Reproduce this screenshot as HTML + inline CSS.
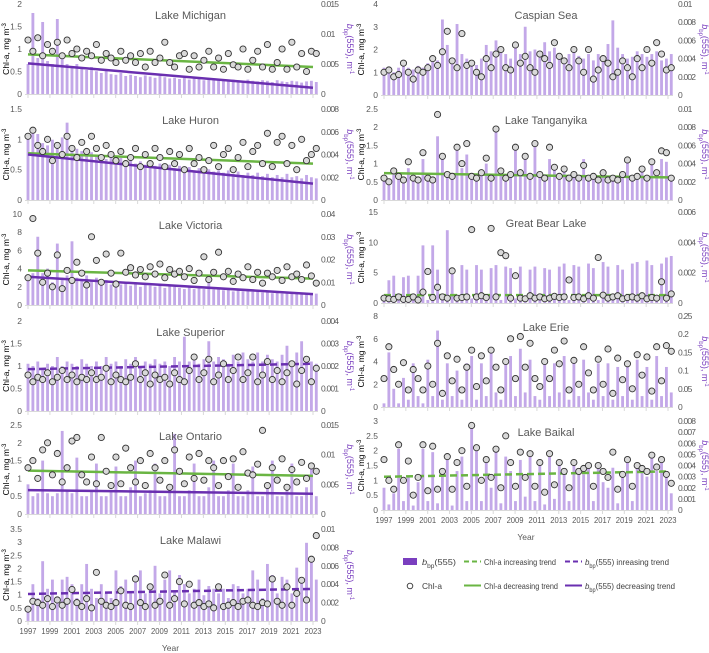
<!DOCTYPE html>
<html><head><meta charset="utf-8">
<style>
html,body{margin:0;padding:0;background:#fff;}
svg{display:block;font-family:"Liberation Sans",sans-serif;}
.tk{font-size:8.5px;fill:#595959;}
.ttl{font-size:11px;fill:#595959;}
.yt{font-size:8.5px;fill:#000;}
.yt2{font-size:9px;fill:#7a3fbf;}
.lg{font-size:8.5px;fill:#404040;}
</style></head>
<body>
<svg id="chart" width="709" height="653" viewBox="0 0 709 653" xmlns="http://www.w3.org/2000/svg"></svg>
<script>
// ---- data ----
const lakeNames = ["Lake Michigan","Lake Huron","Lake Victoria","Lake Superior","Lake Ontario","Lake Malawi","Caspian Sea","Lake Tanganyika","Great Bear Lake","Lake Erie","Lake Baikal"];
const yearTicks = [1997,1999,2001,2003,2005,2007,2009,2011,2013,2015,2017,2019,2021,2023];
const chlMaxes = [2,1.5,10,2,2.5,3.5,4,2.5,15,8,3];
const chlSteps = [0.5,0.5,2,0.5,0.5,0.5,1,0.5,5,2,0.5];
const bbpMaxes = [0.015,0.008,0.04,0.004,0.015,0.01,0.01,0.01,0.006,0.25,0.008];
const bbpSteps = [0.005,0.002,0.01,0.001,0.005,0.002,0.002,0.002,0.002,0.05,0.001];
const chlTrendStart = [0.88,0.77,3.8,null,1.22,null,null,0.74,1.3,null,1.12];
const chlTrendEnd   = [0.6,0.6,2.9,null,1.07,null,null,0.62,1.3,null,1.3];
const chlTrendDashed = [false,false,false,false,false,false,false,false,true,false,true];
const bbpTrendStart = [0.0051,0.004,0.0124,0.00186,0.00402,0.00294,null,null,null,null,null];
const bbpTrendEnd   = [0.00105,0.00144,0.0048,0.0021,0.00342,0.00349,null,null,null,null,null];
const bbpTrendDashed = [false,false,false,true,false,true,false,false,false,false,false];

const chlMichigan=[1.2,0.95,1.25,0.85,1.1,0.95,1.15,0.85,1.2,0.9,1.0,0.8,0.95,0.85,1.1,0.75,0.9,0.8,0.7,0.95,0.75,0.85,0.7,0.9,0.6,0.95,0.7,0.8,1.15,0.7,0.6,0.85,0.9,0.55,0.85,0.6,0.75,0.95,0.6,0.8,0.55,0.9,0.65,0.6,1.0,0.55,0.75,0.95,0.6,1.1,0.55,0.7,1.0,0.55,1.15,0.6,0.9,0.5,0.95,0.9];
const bbpMichigan=[.005,.0135,.006,.012,.0055,.005,.0125,.006,.005,.0045,.005,.0042,.004,.0045,.0038,.0035,.004,.0033,.0032,.0035,.003,.0032,.003,.0028,.0031,.0029,.0027,.003,.0028,.0026,.0027,.0025,.0027,.0024,.0026,.0025,.0023,.0025,.0024,.0023,.0025,.0022,.0024,.0023,.0021,.0024,.0022,.0021,.0023,.0022,.002,.0023,.0021,.002,.0022,.0021,.0019,.0021,.0022,.002];
const chlHuron=[1.05,1.15,0.9,0.8,1.0,0.65,0.9,0.75,1.05,0.85,0.7,0.95,0.8,1.05,0.85,0.7,0.9,0.75,0.65,0.8,0.6,0.7,0.85,0.55,0.75,0.6,0.85,0.7,0.55,0.8,0.6,0.75,0.5,0.85,0.6,0.7,0.5,0.65,0.9,0.55,0.75,0.85,0.5,0.7,0.95,0.55,0.8,0.9,0.6,1.1,0.55,0.95,1.05,0.6,0.9,0.5,1.0,0.65,0.75,0.85];
const bbpHuron=[.0055,.006,.0058,.005,.0048,.0053,.0045,.0055,.0068,.0047,.0045,.0043,.004,.0042,.0038,.004,.0036,.0038,.0035,.0037,.0033,.0036,.0032,.0034,.0031,.0033,.003,.0032,.0029,.0031,.0028,.003,.0027,.0029,.0026,.0028,.0025,.0027,.0025,.0026,.0024,.0026,.0023,.0025,.0022,.0024,.0022,.0024,.0021,.0023,.002,.0022,.002,.0023,.002,.0021,.0019,.0022,.002,.0019];
const chlVictoria=[3.0,9.5,5.7,2.5,3.5,2.0,5.5,1.8,3.8,2.7,4.7,3.5,2.2,7.5,4.9,2.5,5.6,3.5,2.3,5.7,3.6,4.1,3.3,3.9,3.1,4.2,3.4,4.5,3.0,3.9,3.4,3.7,3.1,4.0,2.7,3.5,5.3,2.8,3.6,5.8,3.1,3.7,2.6,3.4,3.0,4.2,2.8,3.6,2.4,3.5,3.1,3.8,2.7,4.2,3.1,3.4,2.8,4.4,3.2,2.4];
const bbpVictoria=[.012,.014,.03,.014,.016,.01,.027,.012,.013,.028,.012,.011,.013,.011,.012,.01,.011,.009,.011,.009,.01,.0085,.01,.008,.009,.0085,.008,.009,.0075,.0085,.008,.0075,.007,.0085,.007,.0075,.007,.012,.0068,.007,.0065,.007,.006,.0068,.006,.0065,.0058,.006,.0055,.006,.0052,.0055,.005,.0057,.005,.0052,.0055,.005,.0048,.005];
const chlSuperior=[0.8,0.65,0.75,0.7,0.85,0.65,0.75,0.9,0.7,0.8,0.65,0.75,0.7,0.85,0.7,0.75,0.95,0.65,0.8,0.7,0.65,0.75,1.05,0.7,0.85,0.6,0.8,0.7,0.75,0.6,0.85,0.7,0.65,0.9,1.2,0.7,0.85,1.15,0.65,0.8,1.05,0.7,0.9,1.2,0.7,0.85,1.2,0.65,0.8,1.1,0.7,0.9,0.65,0.85,1.05,0.6,0.9,1.15,0.65,0.95];
const bbpSuperior=[.0021,.002,.0022,.0019,.0021,.002,.0024,.002,.0022,.0021,.002,.0023,.0021,.002,.0022,.002,.0024,.0021,.0022,.002,.0023,.0021,.0024,.002,.0022,.0021,.0023,.0021,.0022,.002,.0024,.0022,.0033,.0022,.0024,.0021,.0023,.0031,.0022,.0024,.0023,.0021,.0025,.0022,.0026,.0023,.0022,.0026,.0022,.0025,.0023,.0022,.0025,.0029,.0022,.0026,.0031,.0023,.0022,.0021];
const chlOntario=[1.3,1.5,1.0,1.8,2.0,1.1,1.7,0.9,1.3,2.05,2.15,1.1,0.9,1.6,0.85,2.15,1.2,0.8,1.6,0.85,1.85,1.3,0.9,1.5,0.8,1.7,1.3,0.95,1.5,0.75,1.8,1.2,0.85,1.6,1.0,1.7,0.95,1.5,1.3,0.8,1.5,1.05,1.55,0.75,1.75,1.15,1.1,1.4,2.35,0.8,1.3,0.95,1.55,0.75,1.25,0.9,1.45,1.0,1.35,1.2];
const bbpOntario=[.005,.003,.0035,.009,.0035,.003,.0035,.014,.004,.0035,.0095,.003,.003,.004,.0085,.003,.003,.004,.008,.003,.003,.0045,.009,.003,.0035,.004,.0085,.003,.003,.005,.0135,.003,.003,.004,.0085,.003,.003,.0045,.009,.003,.003,.004,.0085,.003,.003,.004,.008,.003,.003,.0045,.009,.003,.003,.004,.0085,.003,.003,.0045,.008,.003];
const chlMalawi=[0.45,0.75,0.7,0.6,0.85,0.55,0.8,0.6,0.75,1.2,0.7,0.55,0.85,0.5,1.85,0.75,0.6,0.55,0.7,1.15,0.6,0.55,1.6,0.7,0.55,1.3,0.6,0.75,1.75,0.6,0.85,1.5,0.65,1.4,0.6,0.7,0.55,0.65,0.5,1.3,0.55,0.6,0.7,0.55,0.75,0.8,0.6,0.55,0.7,0.65,1.6,0.75,0.6,1.3,0.6,1.05,1.55,0.8,2.35,3.25];
const bbpMalawi=[.0015,.004,.0025,.0065,.0035,.0045,.0025,.0045,.0048,.004,.0025,.004,.0062,.0035,.0025,.004,.003,.0025,.0055,.0038,.0045,.003,.005,.0055,.003,.0035,.006,.003,.0045,.0055,.0032,.005,.004,.003,.0035,.0045,.0028,.0038,.0035,.003,.0035,.0025,.004,.0038,.003,.0035,.0055,.0045,.0025,.0062,.005,.003,.0048,.0045,.003,.0058,.0045,.0085,.0065,.0045];
const chlCaspian=[1.0,1.1,0.8,0.9,1.4,1.0,0.7,1.1,1.0,1.2,1.6,1.3,1.9,2.8,1.5,1.2,2.7,1.3,1.4,1.0,0.8,1.6,1.2,1.8,2.0,1.2,1.1,2.2,1.4,1.7,1.2,1.0,1.8,1.6,1.3,2.3,1.7,1.5,1.2,2.0,1.5,1.0,2.0,0.7,1.1,1.6,1.4,0.8,1.0,1.5,1.2,0.8,1.6,1.2,2.0,1.4,2.3,1.8,1.1,1.2];
const bbpCaspian=[.003,.0028,.0025,.003,.0032,.003,.0028,.0032,.003,.0035,.004,.0038,.0083,.0055,.0038,.0078,.0045,.004,.0035,.0033,.004,.0055,.0048,.006,.005,.0045,.004,.0055,.0045,.0075,.0048,.005,.0045,.0058,.0048,.0052,.0045,.004,.0045,.0048,.0043,.004,.0045,.0038,.0045,.0042,.0056,.0082,.0052,.0045,.004,.0042,.0048,.0045,.0042,.0045,.0048,.0038,.004,.0045];
const chlTanganyika=[0.6,0.5,0.8,0.65,0.55,1.05,0.6,0.55,1.3,0.6,0.55,2.35,1.2,0.7,0.65,1.45,1.0,1.55,0.65,0.6,0.75,1.15,0.6,1.95,0.8,0.6,0.7,1.45,0.75,1.2,0.65,1.55,0.7,0.6,1.45,0.9,0.65,0.85,0.6,0.7,0.6,0.95,0.6,0.65,0.55,0.75,0.55,0.6,0.55,0.7,1.1,0.6,0.65,0.85,0.6,1.05,0.75,1.35,1.3,0.6];
const bbpTanganyika=[.0025,.002,.003,.0025,.0022,.0035,.0025,.002,.0045,.0022,.002,.007,.0045,.0025,.0025,.0055,.0035,.005,.0025,.0022,.003,.004,.0022,.0078,.0032,.0022,.0025,.0055,.003,.0045,.0025,.006,.0028,.0022,.0045,.0035,.0025,.0032,.0022,.0025,.0022,.0045,.0022,.0025,.0022,.003,.0022,.0025,.0022,.0028,.0045,.0022,.0025,.0035,.0022,.004,.003,.0045,.0042,.0025];
const chlGreatBear=[0.8,0.7,0.6,1.0,0.6,0.6,1.0,0.5,1.8,5.2,0.9,2.6,1.0,0.8,5.3,0.8,0.9,1.0,12.1,1.0,1.2,0.9,12.3,1.0,8.3,7.8,0.8,4.5,0.8,0.7,1.2,0.8,1.0,0.7,0.8,1.1,0.9,1.0,3.8,0.9,1.0,0.7,1.2,0.8,7.5,1.3,0.8,1.0,1.2,0.7,0.9,1.0,0.8,1.2,0.7,0.9,0.8,3.5,0.8,1.5];
const bbpGreatBear=[.0005,.0015,.0018,.0003,.0017,.0018,.0003,.0018,.0038,.0002,.0038,.0022,.0003,.0048,.0023,.0003,.0025,.0022,.0003,.0025,.0022,.0003,.0023,.0025,.0002,.0024,.0023,.0003,.0024,.0002,.0022,.0024,.0003,.0023,.0022,.0003,.0024,.0026,.0002,.0025,.0024,.0003,.0026,.0023,.0002,.0027,.0024,.0003,.0025,.0022,.0003,.0026,.0027,.0003,.0028,.0025,.0003,.0026,.003,.0031];
const chlErie=[2.5,5.3,3.3,2.0,3.9,1.5,3.3,2.5,1.5,3.6,2.0,5.6,1.2,4.5,2.3,4.2,1.5,3.5,5.0,1.8,4.5,2.3,5.0,3.5,1.5,4.0,6.0,2.5,6.2,3.5,5.6,2.5,1.8,4.0,2.5,5.0,3.8,5.8,1.5,4.1,2.0,5.3,3.0,1.5,4.2,2.0,5.1,1.2,4.3,2.4,3.8,1.6,4.6,2.8,4.4,1.4,5.3,2.3,5.4,4.9];
const bbpErie=[.01,.15,.05,.01,.08,.02,.12,.03,.01,.13,.03,.21,.02,.12,.03,.1,.02,.12,.14,.02,.12,.03,.15,.04,.02,.12,.14,.03,.16,.04,.13,.03,.02,.13,.03,.12,.04,.14,.02,.12,.03,.13,.04,.02,.12,.03,.12,.02,.11,.03,.12,.02,.13,.03,.11,.02,.14,.03,.11,.04];
const chlBaikal=[1.7,1.0,0.7,2.2,1.0,1.65,0.5,1.1,2.2,0.65,2.15,0.7,1.3,1.8,0.7,1.6,2.0,0.8,2.85,2.1,1.0,1.7,1.1,2.05,0.75,2.5,1.6,0.8,1.95,1.1,1.9,0.8,1.6,0.6,1.9,0.85,1.6,1.3,0.75,1.6,1.3,1.4,1.5,0.8,1.5,1.3,1.1,1.95,0.7,1.2,1.7,0.8,1.5,1.4,1.3,1.85,1.45,1.7,1.2,0.9];
const bbpBaikal=[.002,.0005,.0015,.0055,.0008,.003,.0004,.0025,.0055,.0008,.0052,.0006,.003,.0045,.0004,.0035,.0048,.0008,.0075,.0058,.0008,.0045,.002,.0055,.0006,.0048,.0035,.0008,.0045,.0012,.0048,.0008,.004,.0005,.0048,.001,.004,.0032,.0008,.004,.0035,.0032,.004,.0008,.004,.0025,.002,.0038,.0006,.003,.0046,.0008,.0042,.0035,.003,.0048,.0035,.0045,.0032,.0015];

const chlSeries=[chlMichigan,chlHuron,chlVictoria,chlSuperior,chlOntario,chlMalawi,chlCaspian,chlTanganyika,chlGreatBear,chlErie,chlBaikal];
const bbpSeries=[bbpMichigan,bbpHuron,bbpVictoria,bbpSuperior,bbpOntario,bbpMalawi,bbpCaspian,bbpTanganyika,bbpGreatBear,bbpErie,bbpBaikal];

const layout=[
 {x0:28,x1:313,top:4,bot:94,col:0},{x0:28,x1:313,top:109,bot:200,col:0},{x0:28,x1:313,top:214,bot:305,col:0},
 {x0:28,x1:313,top:321,bot:411,col:0},{x0:28,x1:313,top:425,bot:514,col:0},{x0:28,x1:313,top:529,bot:621,col:0},
 {x0:384,x1:668,top:4,bot:95,col:1},{x0:384,x1:668,top:109,bot:200,col:1},{x0:384,x1:668,top:212,bot:303,col:1},
 {x0:384,x1:668,top:316,bot:407,col:1},{x0:384,x1:668,top:421,bot:510,col:1}
];
const svg=document.getElementById('chart');
const NS='http://www.w3.org/2000/svg';
function mk(tag,attrs,parent){const e=document.createElementNS(NS,tag);for(const k in attrs)e.setAttribute(k,attrs[k]);(parent||svg).appendChild(e);return e;}
function fmt(v){return String(+v.toFixed(4));}
const YEAR0=1997, YEAR_SPAN=26, LAST_YEAR=2023.3;

lakeNames.forEach((name,p)=>{
  const L=layout[p];
  const g=mk('g',{});
  
  
  const xs=yr=>L.x0+(yr-YEAR0)/YEAR_SPAN*(L.x1-L.x0);
  const yc=v=>L.bot-v/chlMaxes[p]*(L.bot-L.top);
  const yb=v=>L.bot-v/bbpMaxes[p]*(L.bot-L.top);
  const n=chlSeries[p].length;
  const idxYear=i=>YEAR0+i*(LAST_YEAR-YEAR0)/(n-1);
  const ax=mk('line',{x1:L.x0-3,x2:L.x1+5,y1:L.bot+0.5,y2:L.bot+0.5,stroke:'#d9d9d9','stroke-width':1},g);
  
  
  yearTicks.forEach(yr=>{const t=mk('line',{x1:xs(yr),x2:xs(yr),y1:L.bot,y2:L.bot+4,stroke:'#d9d9d9'},g);
    
    });
  const bw=(L.x1-L.x0)/n*0.6;
  bbpSeries[p].forEach((v,i)=>{
    const x=xs(idxYear(i));
    const b=mk('rect',{x:x-bw/2,y:yb(v),width:bw,height:L.bot-yb(v),fill:'#c3a8e8'},g);
    
    
  });
  if(chlTrendStart[p]!==null){
    const t=mk('line',{x1:L.x0,x2:L.x1,y1:yc(chlTrendStart[p]),y2:yc(chlTrendEnd[p]),stroke:'#6ab543','stroke-width':2.5},g);
    if(chlTrendDashed[p])t.setAttribute('stroke-dasharray','7,4');
    
    
  }
  if(bbpTrendStart[p]!==null){
    const t=mk('line',{x1:L.x0,x2:L.x1,y1:yb(bbpTrendStart[p]),y2:yb(bbpTrendEnd[p]),stroke:'#6a2fb0','stroke-width':2.5},g);
    if(bbpTrendDashed[p])t.setAttribute('stroke-dasharray','7,4');
    
    
  }
  chlSeries[p].forEach((v,i)=>{
    const c=mk('circle',{cx:xs(idxYear(i)),cy:yc(v),r:3.1,fill:'#d9d9d9',stroke:'#333','stroke-width':0.9},g);
    
    
  });
  for(let v=0;v<=chlMaxes[p]+1e-9;v+=chlSteps[p]){
    const t=mk('text',{x:L.x0-6,y:yc(v)+3,'text-anchor':'end',class:'tk'},g);t.textContent=fmt(v);
    
    
  }
  const rx=L.col===0?321:678;
  for(let v=0;v<=bbpMaxes[p]+1e-9;v+=bbpSteps[p]){
    const s=fmt(v);
    const t=mk('text',{x:rx,y:yb(v)+3,class:'tk'},g);t.textContent=s;
    if(s.length>1)t.setAttribute('textLength',s.length*3.6);
    
    
  }
  const tt=mk('text',{x:(L.x0+L.x1)/2+20,y:L.top+15,'text-anchor':'middle',class:'ttl'},g);tt.textContent=name;
  
  
  const mid=(L.top+L.bot)/2;
  const lx=L.col===0?9:364;
  const yl=mk('text',{x:lx,y:mid,transform:`rotate(-90 ${lx} ${mid})`,'text-anchor':'middle',class:'yt'},g);
  yl.innerHTML='Chl-a, mg m<tspan baseline-shift="super" font-size="6">-3</tspan>';
  
  
  const r2=L.col===0?347:702;
  const yr2=mk('text',{x:r2,y:mid,transform:`rotate(90 ${r2} ${mid})`,'text-anchor':'middle',class:'yt2'},g);
  yr2.innerHTML='<tspan font-style="italic">b</tspan><tspan baseline-shift="sub" font-size="6">bp</tspan>(555), m<tspan baseline-shift="super" font-size="6">-1</tspan>';
  
  
  if(p===5||p===10){
    const ly=L.bot+13;
    yearTicks.forEach(yr=>{const t=mk('text',{x:xs(yr),y:ly,'text-anchor':'middle',class:'tk',textLength:17,lengthAdjust:'spacingAndGlyphs'},g);t.textContent=yr;
      
      });
    const yt=mk('text',{x:(L.x0+L.x1)/2,y:L.bot+30,'text-anchor':'middle',class:'tk','font-size':'10'},g);yt.textContent='Year';
    
    
  }
});
const lg=mk('g',{});


lg.innerHTML=`
<rect x="403" y="558" width="14" height="7" fill="#7a3fbf"/>
<text x="422" y="565" class="lg" textLength="34" lengthAdjust="spacingAndGlyphs"><tspan font-style="italic">b</tspan><tspan baseline-shift="sub" font-size="6">bp</tspan>(555)</text>
<line x1="464" y1="561.5" x2="481" y2="561.5" stroke="#6ab543" stroke-width="2" stroke-dasharray="5,3"/>
<text x="484" y="565" class="lg" textLength="72" lengthAdjust="spacingAndGlyphs">Chl-a increasing trend</text>
<line x1="565" y1="561.5" x2="582" y2="561.5" stroke="#6a2fb0" stroke-width="2" stroke-dasharray="5,3"/>
<text x="585" y="565" class="lg" textLength="84" lengthAdjust="spacingAndGlyphs"><tspan font-style="italic">b</tspan><tspan baseline-shift="sub" font-size="6">bp</tspan>(555) inreasing trend</text>
<circle cx="410" cy="586" r="2.8" fill="#fff" stroke="#333" stroke-width="0.9"/>
<text x="422" y="589" class="lg" textLength="20" lengthAdjust="spacingAndGlyphs">Chl-a</text>
<line x1="464" y1="585.5" x2="481" y2="585.5" stroke="#6ab543" stroke-width="2"/>
<text x="484" y="589" class="lg" textLength="74" lengthAdjust="spacingAndGlyphs">Chl-a decreasing trend</text>
<line x1="565" y1="585.5" x2="582" y2="585.5" stroke="#6a2fb0" stroke-width="2"/>
<text x="585" y="589" class="lg" textLength="90" lengthAdjust="spacingAndGlyphs"><tspan font-style="italic">b</tspan><tspan baseline-shift="sub" font-size="6">bp</tspan>(555) decreasing trend</text>`;
</script>
</body></html>
